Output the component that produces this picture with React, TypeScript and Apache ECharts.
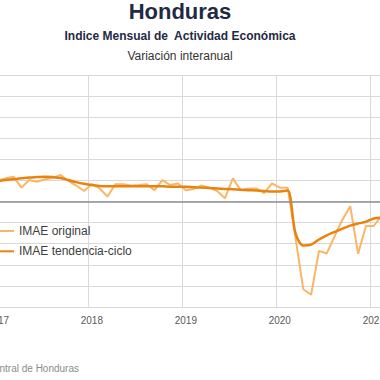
import React, { useEffect, useRef } from "react";
import * as echarts from "echarts";

const years = ["2017", "2018", "2019", "2020", "2021"];
const monthsShown = 50; // Jan 2017 .. Feb 2021

const original = [
  5.0, 5.5, 5.9, 3.3, 5.1, 4.7, 5.3, 5.6, 6.3, 4.9, 3.8, 2.5,
  4.1, 3.1, 1.2, 4.1, 4.1, 3.8, 3.9, 4.1, 2.7, 5.1, 3.9, 4.3,
  2.7, 3.0, 3.8, 3.3, 2.5, 0.8, 5.5, 2.7, 3.1, 3.1, 2.0, 4.3,
  3.3, 3.3, -8.5, -20.8, -22.1, -11.7, -12.3, -8.2, -4.3, -1.1, -12.4, -5.8,
  -5.8, -3.3,
];

const trend = [
  4.9, 5.1, 5.3, 5.5, 5.7, 5.8, 5.9, 5.8, 5.6, 5.1, 4.6, 4.2,
  3.9, 3.7, 3.6, 3.6, 3.6, 3.6, 3.6, 3.6, 3.6, 3.6, 3.5, 3.5,
  3.5, 3.4, 3.3, 3.2, 3.1, 3.0, 2.9, 2.8, 2.7, 2.6, 2.5, 2.4,
  2.4, 2.6, -7.5, -10.4, -10.2, -9.0, -8.0, -7.2, -6.4, -5.7, -5.2, -4.8,
  -4.0, -3.8,
];

const categories: string[] = [];
for (let i = 0; i < monthsShown; i++) {
  const y = years[Math.floor(i / 12)];
  const m = String((i % 12) + 1).padStart(2, "0");
  categories.push(`${y}-${m}`);
}

const FONT = "'Liberation Sans', Arial, sans-serif";
const OFFSET = 60;

export default function App() {
  const ref = useRef<HTMLDivElement>(null);
  useEffect(() => {
    if (!ref.current) return;
    const chart = echarts.init(ref.current, undefined, { renderer: "svg" });
    chart.setOption({
      animation: false,
      backgroundColor: "#ffffff",
      textStyle: { fontFamily: FONT },
      title: [
        {
          text: "Honduras",
          left: 180 + OFFSET,
          textAlign: "center",
          top: 0,
          padding: 0,
          textStyle: { fontSize: 22, fontWeight: "bold", color: "#1F2A44", fontFamily: FONT },
        },
        {
          text: "Indice Mensual de  Actividad Económica",
          left: 180 + OFFSET,
          textAlign: "center",
          top: 30,
          padding: 0,
          textStyle: { fontSize: 12, fontWeight: "bold", color: "#1F2A44", fontFamily: FONT },
        },
        {
          text: "Variación interanual",
          left: 180 + OFFSET,
          textAlign: "center",
          top: 49.5,
          padding: 0,
          textStyle: { fontSize: 12, fontWeight: "normal", color: "#333333", fontFamily: FONT },
        },
        {
          text: "Fuente: Banco Central de Honduras",
          left: 79 + OFFSET,
          textAlign: "right",
          top: 363,
          padding: 0,
          textStyle: { fontSize: 10, fontWeight: "normal", color: "#8c8c8c", fontFamily: FONT },
        },
      ],
      legend: {
        data: ["IMAE original", "IMAE tendencia-ciclo"],
        orient: "vertical",
        left: 49,
        top: 224,
        padding: 0,
        itemWidth: 25,
        itemHeight: 2,
        itemGap: 6.3,
        icon: "rect",
        textStyle: { fontSize: 12, lineHeight: 14, color: "#404040", fontFamily: FONT },
      },
      grid: {
        left: OFFSET - 6,
        top: 75,
        width: 7.83 * monthsShown,
        height: 232,
        containLabel: false,
      },
      xAxis: {
        type: "category",
        data: categories,
        boundaryGap: true,
        axisLine: { show: true, onZero: false, lineStyle: { color: "#d9d9d9", width: 1 } },
        axisTick: { show: false },
        axisLabel: {
          interval: (i: number) => i % 12 === 0,
          formatter: (v: string) => v.slice(0, 4),
          fontSize: 10,
          color: "#595959",
          margin: 8,
          fontFamily: FONT,
        },
        splitLine: {
          show: true,
          interval: (i: number) => i % 12 === 0,
          lineStyle: { color: "#d9d9d9", width: 1 },
        },
      },
      yAxis: {
        type: "value",
        min: -25,
        max: 30,
        interval: 5,
        axisLine: { show: false },
        axisTick: { show: false },
        axisLabel: { show: false },
        splitLine: { show: true, lineStyle: { color: "#d9d9d9", width: 1 } },
      },
      series: [
        {
          name: "IMAE original",
          type: "line",
          data: original,
          symbol: "none",
          lineStyle: { color: "#FAB565", width: 2 },
          itemStyle: { color: "#FAB565" },
          z: 2,
        },
        {
          name: "IMAE tendencia-ciclo",
          type: "line",
          data: trend,
          symbol: "none",
          smooth: 0.3,
          lineStyle: { color: "#E8830F", width: 2.5 },
          itemStyle: { color: "#E8830F" },
          z: 3,
          markLine: {
            silent: true,
            symbol: ["none", "none"],
            label: { show: false },
            lineStyle: { color: "#8f8f8f", width: 1.5, type: "solid" },
            data: [{ yAxis: 0 }],
          },
        },
      ],
    });
    return () => chart.dispose();
  }, []);

  return (
    <div
      style={{
        position: "fixed",
        left: 0,
        top: 0,
        width: 380,
        height: 380,
        overflow: "hidden",
        background: "#fff",
      }}
    >
      <div
        ref={ref}
        style={{ position: "absolute", left: -OFFSET, top: 0, width: 460, height: 380 }}
      />
    </div>
  );
}
